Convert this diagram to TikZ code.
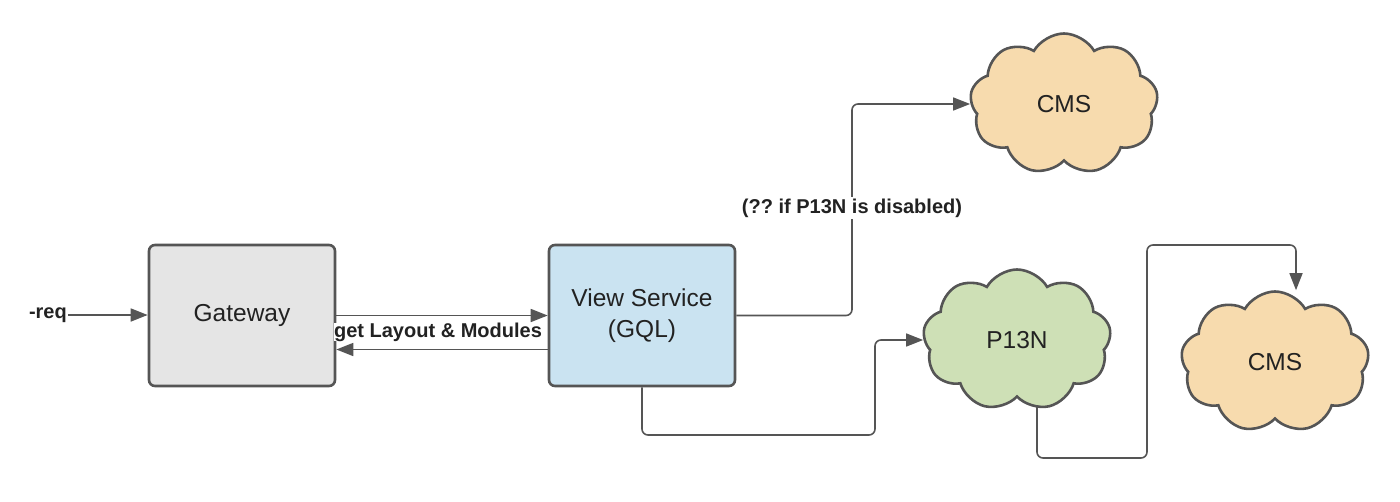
\documentclass[tikz,border=0pt]{standalone}
\usepackage{fontspec}
\setmainfont{Liberation Sans}
\frenchspacing
\usetikzlibrary{arrows.meta,shapes.symbols}
\definecolor{strk}{HTML}{555555}
\definecolor{gwfill}{HTML}{E5E5E5}
\definecolor{vsfill}{HTML}{CAE3F1}
\definecolor{grfill}{HTML}{CEE0B6}
\definecolor{orfill}{HTML}{F7DBAE}
\definecolor{txt}{HTML}{222222}
\tikzset{
  box/.style={draw=strk, line width=2.6pt, rounded corners=6pt, minimum width=186pt, minimum height=141pt, inner sep=0pt, align=center, text=txt, font=\fontsize{24.5}{31}\selectfont},
  cloudbox/.style={cloud, cloud puffs=9, cloud puff arc=120, aspect=1.33, draw=strk, line width=2.6pt, minimum width=188pt, minimum height=141pt, inner sep=0pt, text=txt, font=\fontsize{24.5}{31}\selectfont},
  conn/.style={draw=strk, line width=1.6pt, rounded corners=6pt, -{Triangle[length=17pt,width=13pt]}},
  lbl/.style={font=\bfseries\fontsize{20}{24}\selectfont, text=txt, inner sep=1pt},
}
\begin{document}
\begin{tikzpicture}[x=1pt,y=-1pt]
\useasboundingbox (0,0) rectangle (1400,501);
\node[box, fill=gwfill] (gw) at (242,315.5) {Gateway};
\node[box, fill=vsfill] (vs) at (642,315.5) {View Service\\(GQL)};
\node[cloudbox, fill=orfill] (cms1) at (1064,104) {CMS};
\node[cloudbox, fill=grfill] (p13n) at (1017,340) {P13N};
\node[cloudbox, fill=orfill] (cms2) at (1275,362) {CMS};
\node[lbl, anchor=east] (req) at (68,315) {-req};
\coordinate (k0) at (852,104);
\coordinate (k1) at (875,435);
\coordinate (k2) at (1147,458);
\coordinate (k3) at (1296,245);
\coordinate (p13out) at (1037,405);
\draw[conn] (req.east) -- (gw.west |- req.east);
\draw[conn] (gw.east) -- (vs.west);
\draw[conn] ([yshift=-34pt]vs.west) -- ([yshift=-34pt]gw.east);
\node[lbl, fill=white, inner sep=0pt] (glm) at (438,332) {get Layout \& Modules};
\draw[conn] (vs.east) -| (k0) -- (cms1.west);
\node[lbl, fill=white, inner sep=2pt] (cond) at (852,208) {(?? if P13N is disabled)};
\draw[conn] (vs.south) |- (k1) |- (p13n.west);
\draw[conn] (p13out) |- (k2) |- (k3) -- (k3 |- cms2.north);
\end{tikzpicture}
\end{document}
